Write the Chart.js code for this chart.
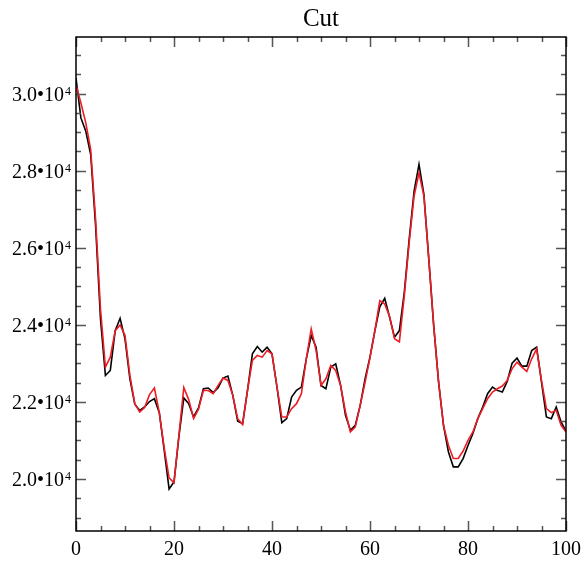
<!DOCTYPE html>
<html>
<head>
<meta charset="utf-8">
<script src="https://cdn.jsdelivr.net/npm/chart.js@4"></script>
<style>
  html, body { margin: 0; padding: 0; background: #fff; }
  #wrap { width: 588px; height: 562px; }
</style>
</head>
<body>
<div id="wrap"><canvas id="myChart"></canvas></div>
<script>
var blackValues = [30405, 29370, 29025, 28420, 26570, 24150, 22687, 22816, 23850, 24170,
	23636, 22600, 21940, 21780, 21868, 22010, 22084, 21720, 20750, 19740,
	19920, 21100, 22105, 21954, 21610, 21845, 22342, 22360, 22240, 22370,
	22620, 22670, 22170, 21497, 21437, 22300, 23248, 23438, 23291, 23420,
	23248, 22400, 21462, 21566, 22126, 22299, 22385, 23118, 23722, 23420,
	22428, 22342, 22903, 22989, 22428, 21652, 21264, 21394, 21911, 22601,
	23170, 23850, 24470, 24690, 24196, 23679, 23851, 24843, 26223, 27473,
	28163, 27387, 25705, 23980, 22514, 21393, 20703, 20315, 20315, 20530,
	20870, 21178, 21566, 21868, 22213, 22385, 22299, 22256, 22532, 23006,
	23136, 22929, 22929, 23334, 23420, 22515, 21609, 21566, 21868, 21480,
	21238];
var redValues = [30233, 29757, 29241, 28551, 26740, 24410, 22903, 23161, 23850, 23997,
	23722, 22687, 21954, 21738, 21855, 22190, 22360, 21720, 20810, 20030,
	19900, 21135, 22375, 22060, 21566, 21810, 22300, 22295, 22213, 22429,
	22620, 22558, 22170, 21566, 21411, 22300, 23075, 23205, 23162, 23334,
	23248, 22400, 21609, 21609, 21825, 21954, 22213, 23118, 23894, 23334,
	22428, 22601, 22946, 22816, 22428, 21738, 21221, 21350, 21911, 22515,
	23150, 23850, 24627, 24541, 24220, 23640, 23558, 24757, 26136, 27344,
	27947, 27344, 25705, 23980, 22514, 21393, 20876, 20531, 20531, 20725,
	21000, 21221, 21566, 21825, 22084, 22256, 22342, 22411, 22558, 22860,
	23032, 22903, 22791, 23118, 23377, 22558, 21825, 21721, 21782, 21393,
	21221];
var xTickLabels = [0, 20, 40, 60, 80, 100];
var yTickLabels = [20000, 22000, 24000, 26000, 28000, 30000];
var titleText = 'Cut';

function toPoints(values) {
	return values.map(function (v, i) { return { x: i, y: v }; });
}

var serif = "'Liberation Serif', 'DejaVu Serif', serif";

// box, inward ticks on all four sides, title and the y labels with a real superscript
var frameTicks = {
	id: 'frameTicks',
	afterDatasetsDraw: function (chart) {
		var ctx = chart.ctx;
		var a = chart.chartArea;
		var xs = chart.scales.x, ys = chart.scales.y;
		ctx.save();
		ctx.strokeStyle = '#555';
		ctx.lineWidth = 1.5;
		ctx.beginPath();
		for (var v = 0; v <= 100; v += 5) {
			var px = Math.round(xs.getPixelForValue(v)) + 0.5;
			var len = (v % 20 === 0) ? 10 : 5;
			ctx.moveTo(px, a.bottom); ctx.lineTo(px, a.bottom - len);
			ctx.moveTo(px, a.top); ctx.lineTo(px, a.top + len);
		}
		for (var w = 19000; w <= 31000; w += 500) {
			var py = Math.round(ys.getPixelForValue(w)) + 0.5;
			var l2 = (w % 2000 === 0) ? 10 : 5;
			ctx.moveTo(a.left, py); ctx.lineTo(a.left + l2, py);
			ctx.moveTo(a.right, py); ctx.lineTo(a.right - l2, py);
		}
		ctx.stroke();
		ctx.strokeStyle = '#000';
		ctx.lineWidth = 1.5;
		ctx.strokeRect(a.left, a.top, a.right - a.left, a.bottom - a.top);

		ctx.fillStyle = '#000';
		ctx.textBaseline = 'alphabetic';
		ctx.textAlign = 'center';
		ctx.font = '25px ' + serif;
		ctx.fillText(titleText, (a.left + a.right) / 2, 26);

		yTickLabels.forEach(function (val) {
			var y = ys.getPixelForValue(val);
			ctx.textAlign = 'right';
			ctx.font = '20px ' + serif;
			ctx.fillText((val / 10000).toFixed(1) + '\u202210', 64, y + 7);
			ctx.textAlign = 'left';
			ctx.font = '12px ' + serif;
			ctx.fillText('4', 65, y + 1);
		});
		ctx.restore();
	}
};

new Chart('myChart', {
	type: 'line',
	data: {
		datasets: [{
			data: toPoints(blackValues),
			borderColor: '#000000',
			borderWidth: 1.6,
			order: 2
		}, {
			data: toPoints(redValues),
			borderColor: '#ee1c24',
			borderWidth: 1.6,
			order: 1
		}]
	},
	options: {
		responsive: true,
		maintainAspectRatio: false,
		animation: false,
		elements: {
			point: { radius: 0 },
			line: { tension: 0 }
		},
		layout: {
			padding: { left: 0, right: 18, top: 37, bottom: 0 }
		},
		scales: {
			x: {
				type: 'linear',
				min: 0,
				max: 100,
				afterBuildTicks: function (scale) {
					scale.ticks = xTickLabels.map(function (v) { return { value: v }; });
				},
				afterFit: function (scale) { scale.height = 31; },
				grid: { display: false, drawTicks: false },
				border: { display: false },
				ticks: {
					padding: 7,
					maxRotation: 0,
					color: '#000',
					font: { family: serif, size: 20 }
				}
			},
			y: {
				type: 'linear',
				min: 18650,
				max: 31470,
				afterBuildTicks: function (scale) {
					scale.ticks = yTickLabels.map(function (v) { return { value: v }; });
				},
				afterFit: function (scale) { scale.width = 76; },
				grid: { display: false, drawTicks: false },
				border: { display: false },
				ticks: { display: false }
			}
		},
		plugins: {
			legend: { display: false },
			tooltip: { enabled: false },
			title: { display: false }
		}
	},
	plugins: [frameTicks]
});
</script>
</body>
</html>
